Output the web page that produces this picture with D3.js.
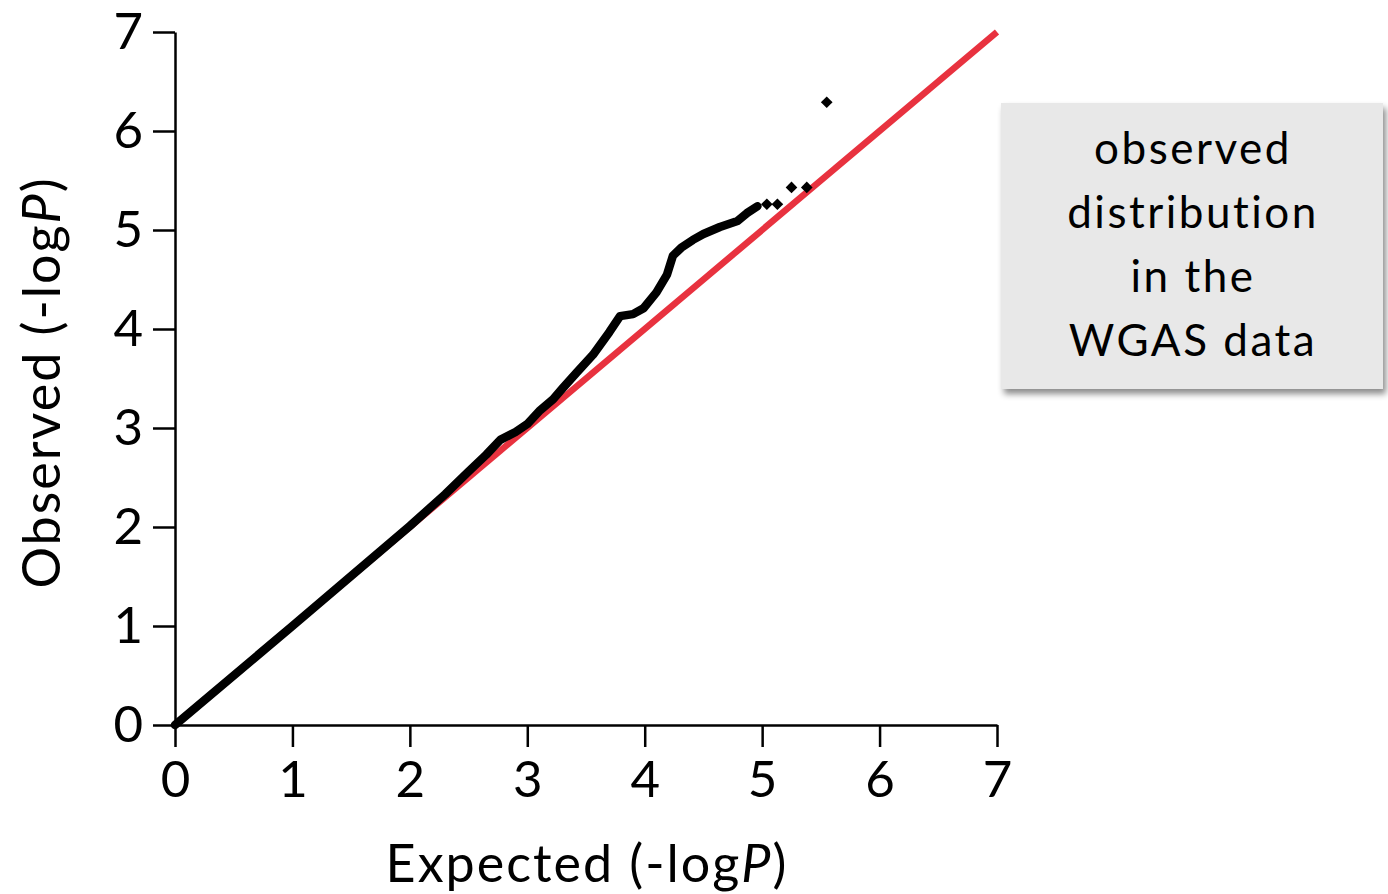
<!DOCTYPE html>
<html>
<head>
<meta charset="utf-8">
<script src="https://cdn.jsdelivr.net/npm/d3@7"></script>
<style>
  html, body { margin: 0; padding: 0; background: #fff; }
  svg { display: block; }
</style>
</head>
<body>
<svg id="chart" width="1388" height="894"></svg>
<script>
// ---- data (expected -logP, observed -logP) ----
const xTicks = [0, 1, 2, 3, 4, 5, 6, 7];
const yTicks = [0, 1, 2, 3, 4, 5, 6, 7];
const curveExpected = [0, 1, 2, 2.3, 2.5, 2.65, 2.77, 2.9, 3.0, 3.11, 3.22, 3.3, 3.42, 3.56, 3.70, 3.79, 3.90, 3.99, 4.10, 4.19, 4.24, 4.31, 4.41, 4.50, 4.64, 4.79, 4.87, 4.96];
const curveObserved = [0, 1, 2.01, 2.33, 2.56, 2.73, 2.88, 2.96, 3.04, 3.18, 3.29, 3.40, 3.56, 3.74, 3.97, 4.13, 4.15, 4.21, 4.37, 4.55, 4.74, 4.82, 4.90, 4.96, 5.03, 5.09, 5.17, 5.24];
const tailExpected = [5.04, 5.13, 5.25, 5.38, 5.55];
const tailObserved = [5.26, 5.26, 5.43, 5.43, 6.29];
const nullLine = [[0, 0], [7, 7]];
const boxLines = ["observed", "distribution", "in the", "WGAS data"];
const xTitle = "Expected (-log";
const yTitle = "Observed (-log";

const svg = d3.select("#chart");
const x = d3.scaleLinear().domain([0, 7]).range([175, 997]);
const y = d3.scaleLinear().domain([0, 7]).range([725, 32]);

// defs: drop shadow
const defs = svg.append("defs");
const f = defs.append("filter").attr("id", "shadow")
  .attr("x", "-10%").attr("y", "-10%").attr("width", "125%").attr("height", "130%");
f.append("feDropShadow").attr("dx", 3).attr("dy", 5).attr("stdDeviation", 3)
  .attr("flood-color", "#000").attr("flood-opacity", 0.45);

// axes
const fontAxis = "Lato, 'Open Sans', sans-serif";
const xAxis = svg.append("g").attr("transform", `translate(0,${y(0)})`)
  .call(d3.axisBottom(x).tickValues(xTicks).tickFormat(d3.format("d"))
    .tickSize(22).tickSizeOuter(0).tickPadding(14));
const yAxis = svg.append("g").attr("transform", `translate(${x(0)},0)`)
  .call(d3.axisLeft(y).tickValues(yTicks).tickFormat(d3.format("d"))
    .tickSize(22).tickSizeOuter(0).tickPadding(10));
[xAxis, yAxis].forEach(g => {
  g.selectAll("path.domain").attr("stroke", "#000").attr("stroke-width", 2.5);
  g.selectAll(".tick line").attr("stroke", "#000").attr("stroke-width", 2.5);
  g.selectAll(".tick text").attr("fill", "#000")
    .style("font-family", fontAxis).style("font-size", "51px");
});

// null line (red)
svg.append("path")
  .attr("d", d3.line().x(d => x(d[0])).y(d => y(d[1]))(nullLine))
  .attr("stroke", "#e8323f").attr("stroke-width", 6.5).attr("fill", "none");

// observed curve (dense points rendered as thick path)
const curve = curveExpected.map((e, i) => [e, curveObserved[i]]);
svg.append("path")
  .attr("d", d3.line().x(d => x(d[0])).y(d => y(d[1]))(curve))
  .attr("stroke", "#000").attr("stroke-width", 8.5).attr("fill", "none")
  .attr("stroke-linejoin", "round").attr("stroke-linecap", "round");

// isolated tail points (diamonds)
const tail = tailExpected.map((e, i) => [e, tailObserved[i]]);
svg.append("g").selectAll("path").data(tail).join("path")
  .attr("d", d3.symbol().type(d3.symbolSquare).size(68))
  .attr("transform", d => `translate(${x(d[0])},${y(d[1])}) rotate(45)`)
  .attr("fill", "#000");

// axis titles
const xt = svg.append("text").attr("x", x(3.5) + 1).attr("y", 882)
  .attr("text-anchor", "middle").style("font-family", fontAxis).style("font-size", "52px")
  .style("letter-spacing", "2px");
xt.append("tspan").text(xTitle);
xt.append("tspan").attr("font-style", "italic").text("P");
xt.append("tspan").text(")");

const yt = svg.append("text").attr("transform", `translate(60,${y(3.5) + 4}) rotate(-90)`)
  .attr("text-anchor", "middle").style("font-family", fontAxis).style("font-size", "52px")
  .style("letter-spacing", "2px");
yt.append("tspan").text(yTitle);
yt.append("tspan").attr("font-style", "italic").text("P");
yt.append("tspan").text(")");

// annotation box
svg.append("rect").attr("x", 1001).attr("y", 103).attr("width", 382).attr("height", 286)
  .attr("fill", "#e8e8e8").attr("filter", "url(#shadow)");
svg.append("g").selectAll("text").data(boxLines).join("text")
  .attr("x", 1193).attr("y", (d, i) => 164 + i * 64)
  .attr("text-anchor", "middle")
  .style("font-family", "Lato, sans-serif").style("font-size", "44px")
  .style("letter-spacing", "2.5px")
  .attr("fill", "#000").text(d => d);
</script>
</body>
</html>
